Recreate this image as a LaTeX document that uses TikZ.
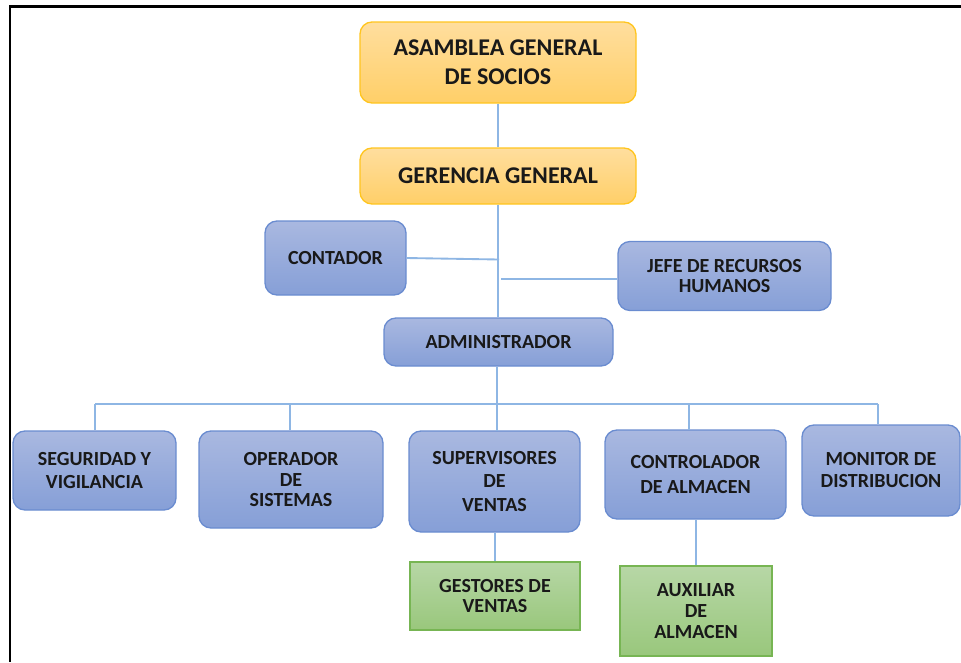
\documentclass[tikz,border=0pt]{standalone}
\usepackage{fontspec}
\setmainfont{Carlito}
\definecolor{bluetop}{HTML}{A9B8E0}
\definecolor{bluebot}{HTML}{869FD7}
\definecolor{blueedge}{HTML}{6A8CD0}
\definecolor{yeltop}{HTML}{FFDE9E}
\definecolor{yelbot}{HTML}{FFCF68}
\definecolor{yeledge}{HTML}{FFC51F}
\definecolor{grntop}{HTML}{B7D7A6}
\definecolor{grnbot}{HTML}{99C77C}
\definecolor{grnedge}{HTML}{77B553}
\definecolor{linkc}{HTML}{8EB6E4}
\tikzset{
  box/.style={rectangle, align=center, inner sep=0pt, text=black!90,
    font=\bfseries\fontsize{15}{17.5}\selectfont},
  bluebox/.style={box, rounded corners=9pt, draw=blueedge, line width=1pt,
    top color=bluetop, bottom color=bluebot},
  yelbox/.style={box, rounded corners=9pt, draw=yeledge, line width=1pt,
    top color=yeltop, bottom color=yelbot,
    font=\bfseries\fontsize{18}{20.5}\selectfont},
  grnbox/.style={box, draw=grnedge, line width=1pt,
    top color=grntop, bottom color=grnbot},
  link/.style={draw=linkc, line width=1.4pt},
}
\begin{document}
\begin{tikzpicture}[x=0.75pt,y=-0.75pt]
\useasboundingbox (0,0) rectangle (961,662);
% frame
\draw[line width=1.6pt, black] (961,6.5) -- (10,6.5) -- (10,662);

\node[yelbox, minimum width=276*0.75pt, minimum height=81*0.75pt] (asam) at (498,62.5) {ASAMBLEA GENERAL\\[1.5pt]DE SOCIOS};
\node[yelbox, minimum width=276*0.75pt, minimum height=56*0.75pt] (ger) at (498,176) {GERENCIA GENERAL};
\node[bluebox, minimum width=141*0.75pt, minimum height=74*0.75pt] (cont) at (335.5,258) {CONTADOR};
\node[bluebox, minimum width=213*0.75pt, minimum height=69*0.75pt, font=\bfseries\fontsize{15}{14.5}\selectfont] (jefe) at (724.5,276) {JEFE DE RECURSOS\\HUMANOS};
\node[bluebox, minimum width=229*0.75pt, minimum height=48*0.75pt] (admin) at (498.5,342) {ADMINISTRADOR};

\node[bluebox, minimum width=163*0.75pt, minimum height=79*0.75pt] (seg) at (94.5,470.5) {SEGURIDAD Y\\VIGILANCIA};
\node[bluebox, minimum width=184*0.75pt, minimum height=97*0.75pt, font=\bfseries\fontsize{15}{15.5}\selectfont] (oper) at (291,479.5) {OPERADOR\\DE\\SISTEMAS};
\node[bluebox, minimum width=171*0.75pt, minimum height=101*0.75pt] (sup) at (494.5,481.5) {SUPERVISORES\\DE\\VENTAS};
\node[bluebox, minimum width=181*0.75pt, minimum height=89*0.75pt, font=\bfseries\fontsize{15}{19}\selectfont] (ctrl) at (695.5,474.5) {CONTROLADOR\\DE ALMACEN};
\node[bluebox, minimum width=158*0.75pt, minimum height=91*0.75pt, font=\bfseries\fontsize{15}{16.5}\selectfont] (mon) at (881,470.5) {MONITOR DE\\DISTRIBUCION};
\node[grnbox, minimum width=170*0.75pt, minimum height=68*0.75pt, font=\bfseries\fontsize{15}{14.5}\selectfont] (gest) at (495,596) {GESTORES DE\\VENTAS};
\node[grnbox, minimum width=152*0.75pt, minimum height=90*0.75pt, font=\bfseries\fontsize{15}{16}\selectfont] (aux) at (696,611) {AUXILIAR\\DE\\ALMACEN};

% connectors
\coordinate (cj) at (499,259.5);
\coordinate (jj) at (501,279);
\coordinate (ad) at (497,431);
\coordinate (b1) at (95,404);
\coordinate (b2) at (290,404);
\coordinate (b5) at (878,404);
\coordinate (b4) at (689,404);
\coordinate (c4) at (689,430);
\draw[link] (asam.south) -- (ger.north);
\draw[link] (ger.south) -- (admin.north -| ger.south);
\draw[link] (cont.east) -- (cj);
\draw[link] (jj) -- (jefe.west |- jj);
\draw[link] (admin.south -| ad) -- (ad);
\draw[link] (b1) -- (b5);
\draw[link] (b1) -- (b1 |- seg.north);
\draw[link] (b2) -- (b2 |- oper.north);
\draw[link] (b4) -- (c4);
\draw[link] (b5) -- (b5 |- mon.north);
\draw[link] (sup.south -| gest.north) -- (gest.north);
\draw[link] (ctrl.south -| aux.north) -- (aux.north);
\end{tikzpicture}
\end{document}
